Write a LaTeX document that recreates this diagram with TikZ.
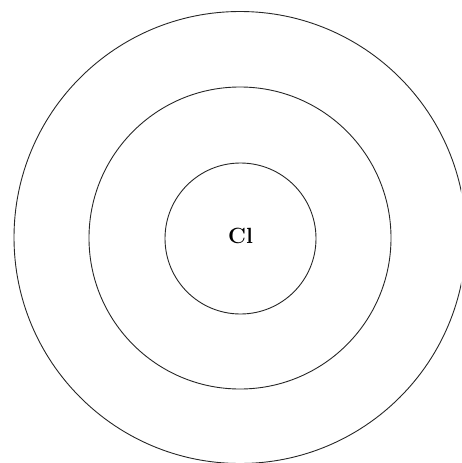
\documentclass[tikz,border=0pt]{standalone}
\begin{document}
\begin{tikzpicture}[x=1pt,y=-1pt,
  ring/.style={draw=black!85,line width=0.9pt}]
\useasboundingbox (0,0) rectangle (461,463);
\clip (0,0) rectangle (461,463);
\node[ring,circle,minimum size=452pt,inner sep=0pt] (outer) at (240,237.5) {};
\node[ring,circle,minimum size=302pt,inner sep=0pt] (middle) at (240,238) {};
\node[ring,circle,minimum size=151pt,inner sep=0pt] (inner) at (240.5,238.5) {};
\node[font=\fontsize{22}{22}\selectfont\bfseries,inner sep=0pt] (cl) at (240.5,235.5) {Cl};
\end{tikzpicture}
\end{document}
